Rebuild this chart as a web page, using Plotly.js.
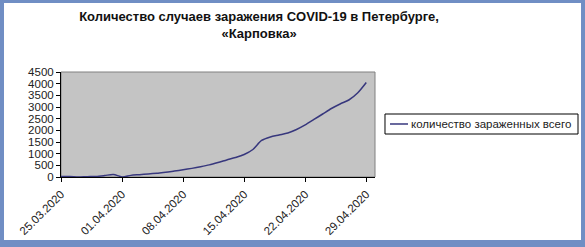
<!DOCTYPE html>
<html>
<head>
<meta charset="utf-8">
<script src="https://cdn.plot.ly/plotly-3.0.1.min.js"></script>
<style>
  html, body { margin: 0; padding: 0; }
  body { width: 585px; height: 247px; background: rgb(112,142,196); position: relative; overflow: hidden; }
  #chart { position: absolute; left: 4px; top: 3px; width: 577px; height: 237px; background: #fff; }
</style>
</head>
<body>
<div id="chart"></div>
<script>
const dates = [
  "2020-03-25","2020-03-26","2020-03-27","2020-03-28","2020-03-29","2020-03-30","2020-03-31",
  "2020-04-01","2020-04-02","2020-04-03","2020-04-04","2020-04-05","2020-04-06","2020-04-07",
  "2020-04-08","2020-04-09","2020-04-10","2020-04-11","2020-04-12","2020-04-13","2020-04-14",
  "2020-04-15","2020-04-16","2020-04-17","2020-04-18","2020-04-19","2020-04-20","2020-04-21",
  "2020-04-22","2020-04-23","2020-04-24","2020-04-25","2020-04-26","2020-04-27","2020-04-28",
  "2020-04-29"
];
const infectedTotal = [
  20, 20, 0, 15, 20, 60, 110,
  5, 70, 100, 130, 165, 200, 255,
  310, 370, 440, 520, 620, 730, 835,
  965, 1180, 1565, 1715, 1800, 1885, 2035,
  2230, 2465, 2700, 2935, 3130, 3300, 3600,
  4050
];
const tickDates = ["2020-03-25","2020-04-01","2020-04-08","2020-04-15","2020-04-22","2020-04-29"];
const tickLabels = ["25.03.2020","01.04.2020","08.04.2020","15.04.2020","22.04.2020","29.04.2020"];
const seriesName = "количество зараженных всего";
const titleText = "Количество случаев заражения COVID-19 в Петербурге,<br>«Карповка»";

const lineColor = "rgb(55,55,125)";
const FONT = "Liberation Sans, Arial, sans-serif";

const trace = {
  x: dates, y: infectedTotal, type: "scatter", mode: "lines",
  name: seriesName,
  line: { color: lineColor, width: 1.5, shape: "spline", smoothing: 0.8 },
  showlegend: false
};

const layout = {
  width: 577, height: 237,
  margin: { l: 57, r: 206, t: 69, b: 63, pad: 0 },
  paper_bgcolor: "#ffffff",
  plot_bgcolor: "rgb(196,196,196)",
  font: { family: FONT, size: 12, color: "#000" },
  title: {
    text: "<b>" + titleText + "</b>",
    font: { family: FONT, size: 13, color: "#111" },
    xref: "container", x: 0.442, xanchor: "center",
    yref: "container", y: 0.922, yanchor: "middle"
  },
  xaxis: {
    type: "date",
    range: ["2020-03-25", "2020-04-30"],
    tickvals: tickDates, ticktext: tickLabels,
    tickangle: -45,
    ticks: "outside", ticklen: 4, tickcolor: "#000", tickwidth: 1,
    ticklabelstandoff: 1,
    showline: true, linecolor: "#000", linewidth: 1,
    showgrid: false, zeroline: false,
    tickfont: { size: 11.5, color: "#222" },
    automargin: false
  },
  yaxis: {
    range: [0, 4500],
    dtick: 500, tick0: 0,
    ticks: "outside", ticklen: 4, tickcolor: "#000", tickwidth: 1,
    showline: true, linecolor: "#000", linewidth: 1,
    showgrid: false, zeroline: false,
    tickfont: { size: 11.5, color: "#222" },
    automargin: false
  },
  shapes: [
    { type: "rect", xref: "paper", yref: "paper", x0: 0, x1: 1, y0: 0, y1: 1,
      line: { color: "rgb(128,128,128)", width: 1 }, layer: "below" },
    { type: "rect", xref: "paper", yref: "paper", x0: 1.0318, x1: 1.6465, y0: 0.4095, y1: 0.6,
      line: { color: "#000", width: 1 }, fillcolor: "#fff" },
    { type: "line", xref: "paper", yref: "paper", x0: 1.0478, x1: 1.1051, y0: 0.5048, y1: 0.5048,
      line: { color: lineColor, width: 1.5 } }
  ],
  annotations: [{
    xref: "paper", yref: "paper", x: 1.108, y: 0.5048, xanchor: "left", yanchor: "middle",
    text: seriesName, showarrow: false,
    font: { family: FONT, size: 11.5, color: "#222" }
  }],
  showlegend: false
};

Plotly.newPlot("chart", [trace], layout, { staticPlot: true, displayModeBar: false });
</script>
</body>
</html>
